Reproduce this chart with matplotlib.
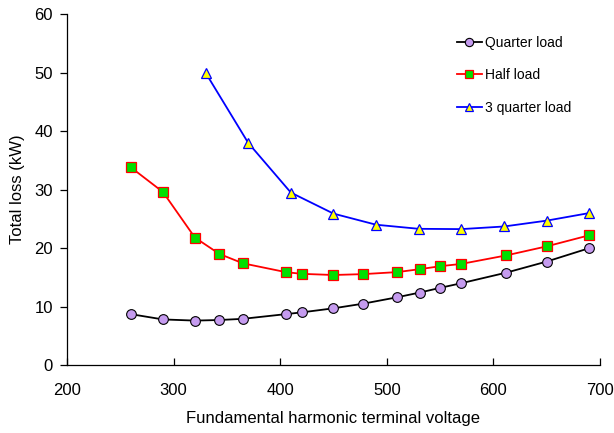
import matplotlib
matplotlib.use("Agg")
import matplotlib.pyplot as plt

plt.rcParams['font.family'] = ['Liberation Sans', 'DejaVu Sans']

x_quarter = [260, 290, 320, 343, 365, 405, 420, 450, 478, 510, 531, 550, 570, 612, 650, 690]
y_quarter = [8.7, 7.8, 7.6, 7.7, 7.9, 8.7, 9.0, 9.7, 10.5, 11.6, 12.4, 13.2, 14.0, 15.8, 17.7, 20.0]

x_half = [260, 290, 320, 343, 365, 405, 420, 450, 478, 510, 531, 550, 570, 612, 650, 690]
y_half = [33.8, 29.6, 21.8, 19.0, 17.4, 15.9, 15.6, 15.4, 15.55, 15.9, 16.4, 16.9, 17.3, 18.75, 20.3, 22.2]

x_3q = [330, 370, 410, 450, 490, 530, 570, 610, 650, 690]
y_3q = [50.0, 38.0, 29.5, 25.9, 24.0, 23.3, 23.25, 23.7, 24.7, 26.0]

labels = ["Quarter load", "Half load", "3 quarter load"]
x_ticks = [200, 300, 400, 500, 600, 700]
y_ticks = [0, 10, 20, 30, 40, 50, 60]

fig = plt.figure(figsize=(6.14, 4.33), dpi=100)
ax = fig.add_axes([0.1091, 0.157, 0.8681, 0.81])

ax.plot(x_quarter, y_quarter, color='black', lw=1.3, marker='o', ms=7,
        mfc='#C59BEF', mec='black', mew=0.8, label=labels[0])
ax.plot(x_half, y_half, color='#FF0000', lw=1.3, marker='s', ms=6.5,
        mfc='#00E000', mec='#FF0000', mew=0.9, label=labels[1])
ax.plot(x_3q, y_3q, color='#0000FF', lw=1.3, marker='^', ms=7.5,
        mfc='#FFFF00', mec='#0000FF', mew=0.9, label=labels[2])

ax.set_xlim(200, 700)
ax.set_ylim(0, 60)
ax.set_xticks(x_ticks)
ax.set_yticks(y_ticks)
for s in ['top', 'right']:
    ax.spines[s].set_visible(False)
for s in ['left', 'bottom']:
    ax.spines[s].set_linewidth(0.9)
ax.tick_params(axis='x', direction='in', length=5, width=0.9, labelsize=12, pad=13)
ax.tick_params(axis='y', direction='out', length=5, width=0.9, labelsize=12, pad=5)

ax.set_xlabel("Fundamental harmonic terminal voltage", fontsize=12, labelpad=9)
ax.set_ylabel("Total loss (kW)", fontsize=12, labelpad=7)

leg = ax.legend(loc='upper left', bbox_to_anchor=(0.708, 0.975), frameon=False,
                fontsize=10, labelspacing=1.35, handlelength=1.8,
                handletextpad=0.2, markerscale=0.85)

fig.savefig("out.png", dpi=100)
